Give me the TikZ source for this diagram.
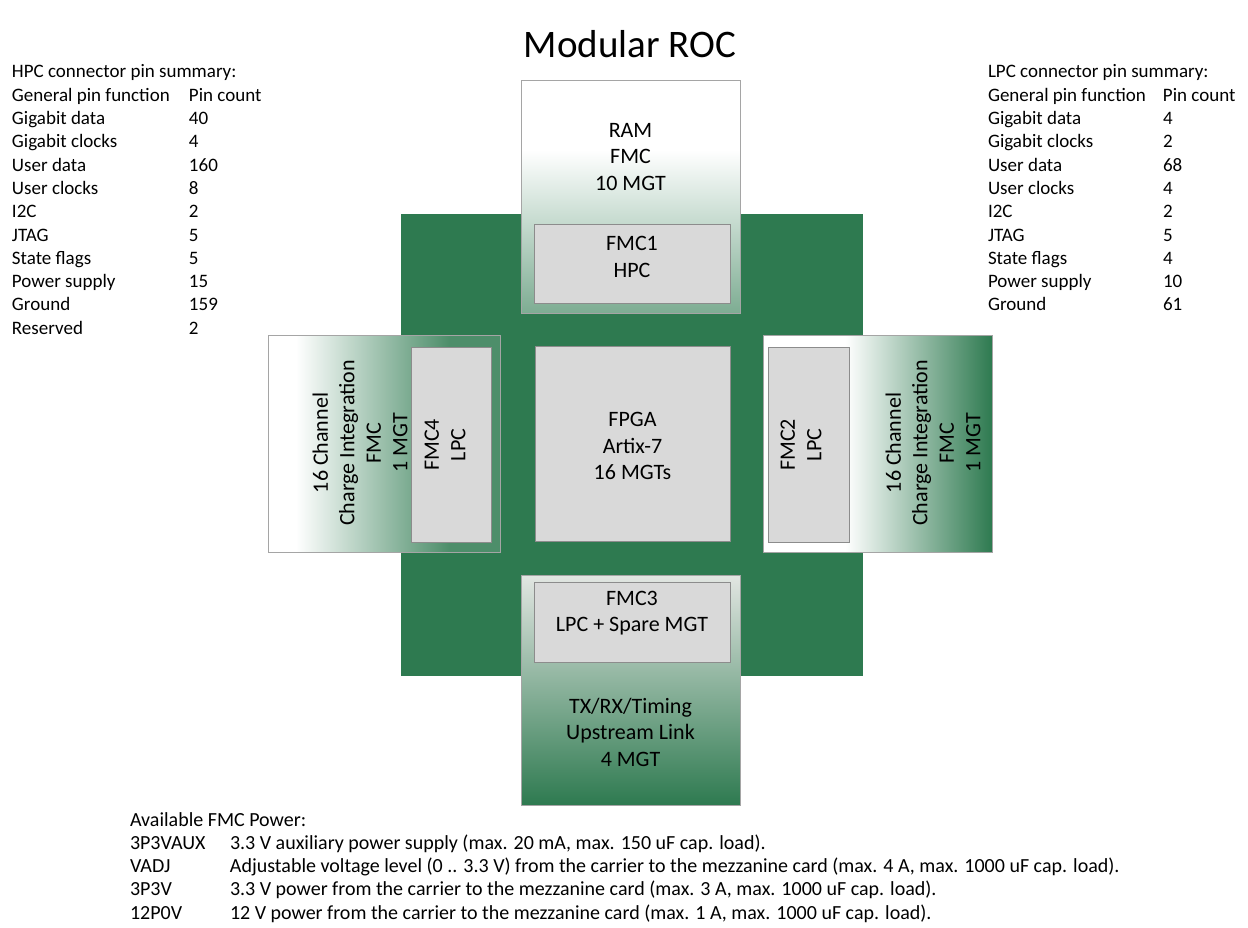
\documentclass[tikz,border=0pt]{standalone}
\usepackage{fontspec}
\setmainfont{Carlito}
\definecolor{board}{RGB}{46,122,80}
\definecolor{chip}{RGB}{217,217,217}
\definecolor{chipedge}{RGB}{140,140,140}
\definecolor{boxedge}{RGB}{165,165,165}
\colorlet{ramlow}{board!62!white}
\colorlet{leftend}{board!85!white}
\definecolor{linktop}{RGB}{226,230,226}
\pgfdeclareverticalshading{ramshade}{100bp}{color(0bp)=(ramlow); color(25bp)=(ramlow); color(60bp)=(white); color(100bp)=(white)}
\pgfdeclareverticalshading{linkshade}{100bp}{color(0bp)=(board); color(25bp)=(board); color(75bp)=(linktop); color(100bp)=(linktop)}
\pgfdeclarehorizontalshading{leftshade}{100bp}{color(0bp)=(white); color(31bp)=(white); color(64bp)=(leftend); color(100bp)=(leftend)}
\pgfdeclarehorizontalshading{rightshade}{100bp}{color(0bp)=(white); color(43bp)=(white); color(75bp)=(board); color(100bp)=(board)}
\newcommand{\tabfont}{\fontsize{19}{23.3}\selectfont}
\newcommand{\powfont}{\fontsize{20}{23.3}\selectfont}
\newcommand{\boxfont}{\fontsize{22}{26.5}\selectfont}
\begin{document}
\begin{tikzpicture}[x=1pt,y=-1pt,
  every node/.style={inner sep=0pt, outer sep=0pt},
  pcb/.style={fill=board, minimum width=462pt, minimum height=462pt},
  card/.style={draw=boxedge, line width=0.8pt, shade},
  chipbox/.style={draw=chipedge, fill=chip, line width=0.8pt},
  label/.style={font=\boxfont, align=center, text=black},
  tab/.style={anchor=base west, font=\tabfont}
]
\useasboundingbox (0,0) rectangle (1248,928);
\fill[white] (0,0) rectangle (1248,928);

% title
\node[font=\fontsize{39}{44}\selectfont] (title) at (630,44) {Modular ROC};

% board
\node[pcb] (board) at (632,445) {};

% mezzanine cards
\node[card, shading=ramshade, minimum width=219pt, minimum height=233pt] (ram) at (630.5,196.5) {};
\node[card, shading=leftshade, minimum width=232pt, minimum height=217pt] (lcard) at (384,443.5) {};
\node[card, shading=rightshade, minimum width=229pt, minimum height=217pt] (rcard) at (877.5,443.5) {};
\node[card, shading=linkshade, minimum width=219pt, minimum height=230pt] (link) at (630.5,690) {};

% connectors and FPGA
\node[chipbox, minimum width=196pt, minimum height=79pt] (fmc1) at (632,263.5) {};
\node[chipbox, minimum width=195pt, minimum height=195pt] (fpga) at (632.5,443.5) {};
\node[chipbox, minimum width=80pt, minimum height=195pt] (fmc4) at (451,444.5) {};
\node[chipbox, minimum width=81pt, minimum height=195pt] (fmc2) at (808.5,444.5) {};
\node[chipbox, minimum width=196pt, minimum height=80pt] (fmc3) at (632,622) {};

% labels
\node[label] (ramtxt) at (630.5,157) {RAM\\FMC\\10 MGT};
\node[label] (fmc1txt) at (632,257) {FMC1\\HPC};
\node[label] (fpgatxt) at (632.5,446) {FPGA\\Artix-7\\16 MGTs};
\node[label, rotate=90] (fmc4txt) at (445,445) {FMC4\\LPC};
\node[label, rotate=90] (fmc2txt) at (801,445) {FMC2\\LPC};
\node[label, rotate=90] (ltxt) at (360,443) {16 Channel\\Charge Integration\\FMC\\1 MGT};
\node[label, rotate=90] (rtxt) at (933,443) {16 Channel\\Charge Integration\\FMC\\1 MGT};
\node[label] (fmc3txt) at (632,613) {FMC3\\LPC + Spare MGT};
\node[label] (linktxt) at (630.5,732) {TX/RX/Timing\\Upstream Link\\4 MGT};

% tables
\node[tab] (hpctab) at (12,78) {\begin{tabular}[t]{@{}p{177pt}@{}l@{}}
\multicolumn{2}{@{}l@{}}{HPC connector pin summary:}\\
General pin function & Pin count\\
Gigabit data & 40\\
Gigabit clocks & 4\\
User data & 160\\
User clocks & 8\\
I2C & 2\\
JTAG & 5\\
State flags & 5\\
Power supply & 15\\
Ground & 159\\
Reserved & 2
\end{tabular}};

\node[tab] (lpctab) at (988,78) {\begin{tabular}[t]{@{}p{175pt}@{}l@{}}
\multicolumn{2}{@{}l@{}}{LPC connector pin summary:}\\
General pin function & Pin count\\
Gigabit data & 4\\
Gigabit clocks & 2\\
User data & 68\\
User clocks & 4\\
I2C & 2\\
JTAG & 5\\
State flags & 4\\
Power supply & 10\\
Ground & 61
\end{tabular}};

\node[tab, font=\powfont] (powertab) at (130,826) {\begin{tabular}[t]{@{}p{100pt}@{}l@{}}
\multicolumn{2}{@{}l@{}}{Available FMC Power:}\\
3P3VAUX & 3.3 V auxiliary power supply (max. 20 mA, max. 150 uF cap. load).\\
VADJ & Adjustable voltage level (0 .. 3.3 V) from the carrier to the mezzanine card (max. 4 A, max. 1000 uF cap. load).\\
3P3V & 3.3 V power from the carrier to the mezzanine card (max. 3 A, max. 1000 uF cap. load).\\
12P0V & 12 V power from the carrier to the mezzanine card (max. 1 A, max. 1000 uF cap. load).
\end{tabular}};
\end{tikzpicture}
\end{document}
